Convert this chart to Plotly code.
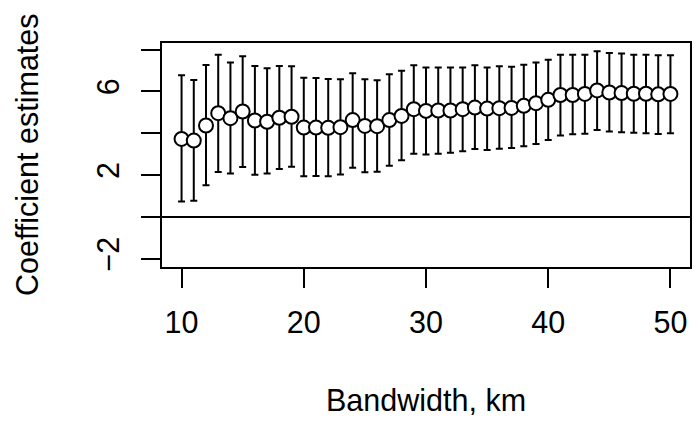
import plotly.graph_objects as go

bandwidth = list(range(10, 51))
estimate = [3.73, 3.65, 4.37, 4.96, 4.72, 5.04, 4.61, 4.55, 4.74, 4.79,
            4.27, 4.27, 4.26, 4.29, 4.63, 4.35, 4.34, 4.63, 4.83, 5.15,
            5.07, 5.09, 5.09, 5.15, 5.23, 5.18, 5.20, 5.21, 5.31, 5.44,
            5.60, 5.83, 5.83, 5.88, 6.05, 5.95, 5.92, 5.89, 5.89, 5.86,
            5.88]
upper = [6.77, 6.55, 7.27, 7.76, 7.38, 7.68, 7.22, 7.11, 7.22, 7.20,
         6.66, 6.64, 6.59, 6.58, 6.87, 6.58, 6.53, 6.82, 6.99, 7.25,
         7.15, 7.15, 7.15, 7.15, 7.25, 7.15, 7.20, 7.18, 7.28, 7.39,
         7.52, 7.75, 7.76, 7.76, 7.92, 7.84, 7.81, 7.76, 7.76, 7.73,
         7.73]
lower = [0.74, 0.77, 1.51, 2.15, 2.07, 2.39, 2.02, 2.07, 2.29, 2.40,
         1.94, 1.96, 1.94, 2.03, 2.35, 2.13, 2.16, 2.45, 2.71, 3.02,
         2.98, 3.02, 3.07, 3.14, 3.25, 3.20, 3.26, 3.30, 3.38, 3.49,
         3.68, 3.89, 3.95, 3.98, 4.16, 4.08, 4.05, 4.02, 4.00, 3.97,
         4.00]

x_ticks = [10, 20, 30, 40, 50]
x_ticklabels = ["10", "20", "30", "40", "50"]
y_ticks = [-2, 0, 2, 4, 6, 8]
y_ticklabels = ["\u22122", "", "2", "", "6", ""]

FONT = "Liberation Sans, Arial, Helvetica, sans-serif"
FS = 30.5

err_plus = [u - e for u, e in zip(upper, estimate)]
err_minus = [e - l for e, l in zip(estimate, lower)]

fig = go.Figure()
fig.add_trace(go.Scatter(
    x=bandwidth, y=estimate, mode="markers",
    marker=dict(symbol="circle", size=14, color="white",
                line=dict(color="black", width=2)),
    error_y=dict(type="data", symmetric=False, array=err_plus,
                 arrayminus=err_minus, color="black", thickness=2, width=3.5),
    showlegend=False,
))

fig.add_hline(y=0, line=dict(color="black", width=2))

ylo, yhi = -2.0, max(upper)
ext = 0.04 * (yhi - ylo)

fig.update_layout(
    width=694, height=422,
    margin=dict(l=162, r=2, t=43, b=155, pad=0),
    paper_bgcolor="white", plot_bgcolor="white",
    font=dict(family=FONT, size=FS, color="black"),
    xaxis=dict(range=[8.4, 51.6], tickvals=x_ticks, ticktext=x_ticklabels,
               showgrid=False, zeroline=False, showline=True, mirror=True,
               linecolor="black", linewidth=2, ticks="outside", ticklen=19,
               tickwidth=2, tickcolor="black",
               tickfont=dict(family=FONT, size=FS), ticklabelstandoff=8),
    yaxis=dict(range=[ylo - ext, yhi + ext], tickvals=y_ticks,
               ticktext=y_ticklabels, tickangle=-90,
               showgrid=False, zeroline=False, showline=True, mirror=True,
               linecolor="black", linewidth=2, ticks="outside", ticklen=19,
               tickwidth=2, tickcolor="black",
               tickfont=dict(family=FONT, size=FS), ticklabelstandoff=10),
    annotations=[
        dict(text="Bandwidth, km", xref="paper", yref="paper", x=0.5, y=0,
             xanchor="center", yanchor="middle", yshift=-133, showarrow=False,
             font=dict(family=FONT, size=FS)),
        dict(text="Coefficient estimates", xref="paper", yref="paper", x=0,
             y=0.5, xanchor="center", yanchor="middle", xshift=-135,
             textangle=-90, showarrow=False, font=dict(family=FONT, size=FS)),
    ],
)

fig.write_html("out.html", config={"displayModeBar": False},
               post_script="document.body.style.margin='0px';")
